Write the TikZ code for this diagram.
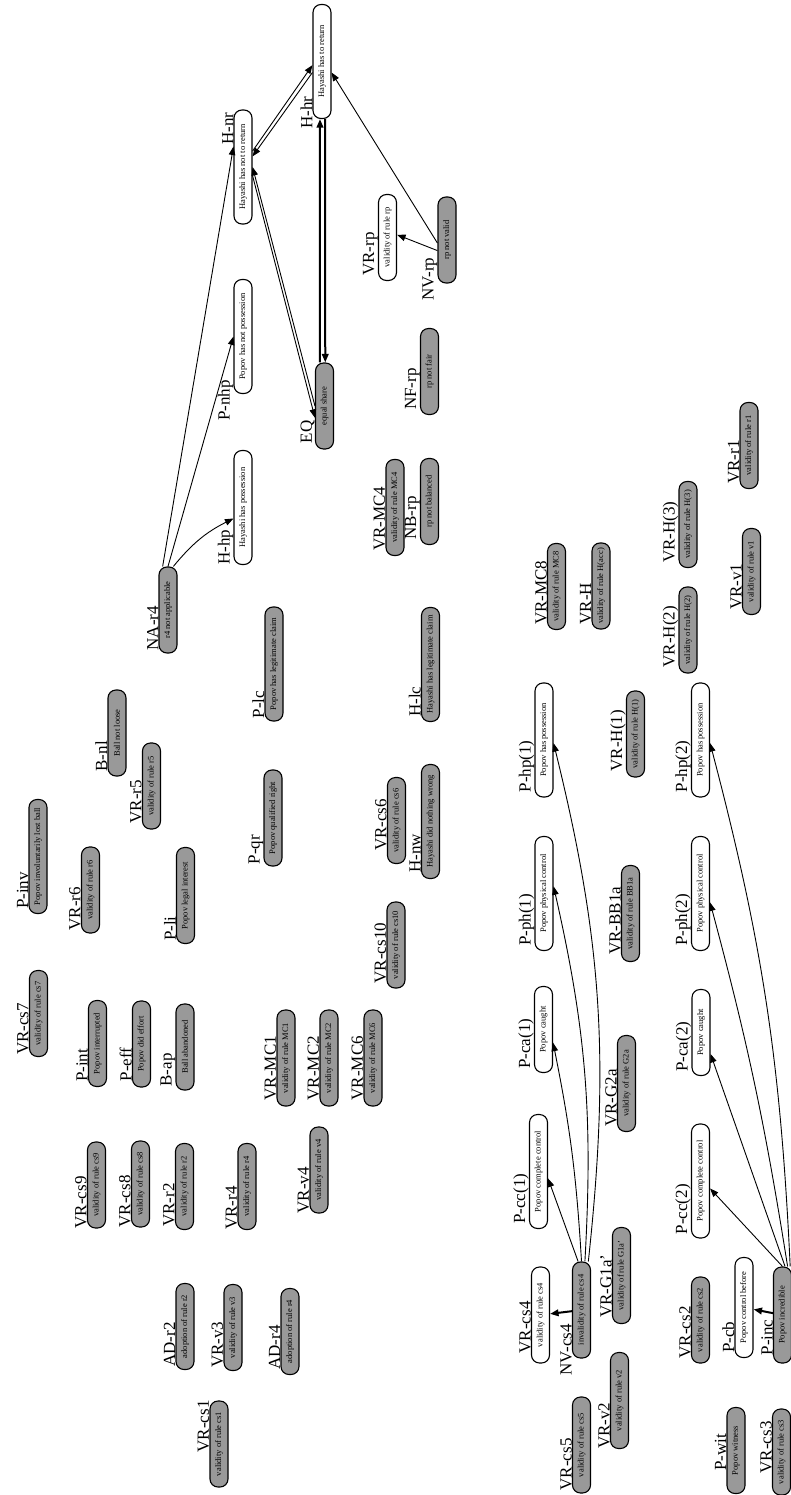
\documentclass[tikz,border=0pt]{standalone}
\usepackage{fontspec}
\setmainfont{Liberation Serif}
\usepackage{tikz}
\usetikzlibrary{arrows.meta, positioning}
\definecolor{argray}{RGB}{153,153,153}

\begin{document}
\begin{tikzpicture}[
  x={(0pt,-1pt)}, y={(-1pt,0pt)}, rotate=90, transform shape,
  prop/.style={rectangle, rounded corners=8pt, draw=black,
    line width=1.1pt, fill=white, inner sep=0pt,
    minimum width=86pt, minimum height=18pt,
    font=\fontsize{8.5}{9}\selectfont},
  held/.style={prop, fill=argray},
  longbox/.style={minimum width=114pt},
  midbox/.style={minimum width=96pt},
  tag/.style={inner sep=0pt, font=\fontsize{17}{17}\selectfont},
  arrow/.style={-{Triangle[length=8.5pt,width=6.5pt]}, line width=0.9pt},
  heavy/.style={arrow, line width=2pt}
]
\useasboundingbox (0,0) rectangle (791,1495);

% Return cluster
\node[prop, longbox] (Hhr) at (322,61.5) {Hayashi has to return};
\node[tag, above right=0pt and -10pt of Hhr.north west] (Hhrt) {H-hr};
\node[prop, longbox] (Hnr) at (243,167) {Hayashi has not to return};
\node[tag, above left=0pt and 3pt of Hnr.north east] (Hnrt) {H-nr};
\node[prop, longbox] (Pnhp) at (243,336.5) {Popov has not possession};
\node[tag, above right=0pt and -27pt of Pnhp.north west] (Pnhpt) {P-nhp};
\node[prop, longbox] (Hhp) at (243,507.5) {Hayashi has possession};
\node[tag, above right=0pt and 0pt of Hhp.north west] (Hhpt) {H-hp};
\node[held] (EQ) at (324.5,406) {equal share};
\node[tag, above right=0pt and 6pt of EQ.north west] (EQt) {EQ};
\node[prop] (VRrp) at (387.5,237.5) {validity of rule rp};
\node[tag, above right=0pt and 5pt of VRrp.north west] (VRrpt) {VR-rp};
\node[held] (NVrp) at (447,240) {rp not valid};
\node[tag, above right=0pt and -17pt of NVrp.north west] (NVrpt) {NV-rp};
\node[held] (NFrp) at (429.5,371.5) {rp not fair};
\node[tag, above right=0pt and 5pt of NFrp.north west] (NFrpt) {NF-rp};
\node[held] (NBrp) at (429.5,501.5) {rp not balanced};
\node[tag, above right=0pt and 5pt of NBrp.north west] (NBrpt) {NB-rp};
\node[held, midbox] (VRMC4) at (395,507.5) {validity of rule MC4};
\node[tag, above right=0pt and 5pt of VRMC4.north west] (VRMC4t) {VR-MC4};
\node[held] (NAr4) at (168,610) {r4 not applicable};
\node[tag, above right=0pt and 3pt of NAr4.north west] (NAr4t) {NA-r4};

% Claims and facts
\node[held, longbox] (Plc) at (274,664) {Popov has legitimate claim};
\node[tag, above right=0pt and 3pt of Plc.north west] (Plct) {P-lc};
\node[held, longbox] (Hlc) at (430.5,664.5) {Hayashi has legitimate claim};
\node[tag, above right=0pt and 5pt of Hlc.north west] (Hlct) {H-lc};
\node[held] (Bnl) at (117,733) {Ball not loose};
\node[tag, above right=0pt and 5pt of Bnl.north west] (Bnlt) {B-nl};
\node[held] (VRr5) at (151.5,786) {validity of rule r5};
\node[tag, above right=0pt and 6pt of VRr5.north west] (VRr5t) {VR-r5};
\node[held, midbox] (Pqr) at (273,818) {Popov qualified right};
\node[tag, above right=0pt and 2pt of Pqr.north west] (Pqrt) {P-qr};
\node[held] (VRcs6) at (396.5,820.5) {validity of rule cs6};
\node[tag, above right=0pt and 13pt of VRcs6.north west] (VRcs6t) {VR-cs6};
\node[held, longbox] (Hnw) at (430.5,821.5) {Hayashi did nothing wrong};
\node[tag, above right=0pt and 6pt of Hnw.north west] (Hnwt) {H-nw};
\node[held, longbox] (Pinv) at (38,856.5) {Popov involuntarily lost ball};
\node[tag, above right=0pt and 5pt of Pinv.north west] (Pinvt) {P-inv};
\node[held] (VRr6) at (90.5,890) {validity of rule r6};
\node[tag, above right=0pt and 3pt of VRr6.north west] (VRr6t) {VR-r6};
\node[held, midbox] (Pli) at (185.5,895.5) {Popov legal interest};
\node[tag, above right=0pt and 3pt of Pli.north west] (Plit) {P-li};
\node[held] (VRcs10) at (396,945) {validity of rule cs10};
\node[tag, above right=0pt and 5pt of VRcs10.north west] (VRcs10t) {VR-cs10};
\node[held] (VRcs7) at (38.5,1013.5) {validity of rule cs7};
\node[tag, above right=0pt and 2pt of VRcs7.north west] (VRcs7t) {VR-cs7};
\node[held] (Pint) at (97.5,1043.5) {Popov interrupted};
\node[tag, above right=0pt and 5pt of Pint.north west] (Pintt) {P-int};
\node[held] (Peff) at (141.5,1044) {Popov did effort};
\node[tag, above right=0pt and 6pt of Peff.north west] (Pefft) {P-eff};
\node[held] (Bap) at (185,1047) {Ball abandoned};
\node[tag, above right=0pt and 4pt of Bap.north west] (Bapt) {B-ap};
\node[held, midbox] (VRMC1) at (286,1058) {validity of rule MC1};
\node[tag, above right=0pt and 6pt of VRMC1.north west] (VRMC1t) {VR-MC1};
\node[held, midbox] (VRMC2) at (329,1058) {validity of rule MC2};
\node[tag, above right=0pt and 6pt of VRMC2.north west] (VRMC2t) {VR-MC2};
\node[held, midbox] (VRMC6) at (373,1058) {validity of rule MC6};
\node[tag, above right=0pt and 6pt of VRMC6.north west] (VRMC6t) {VR-MC6};

% Rules, lower left
\node[held] (VRcs9) at (96.5,1185) {validity of rule cs9};
\node[tag, above right=0pt and 0pt of VRcs9.north west] (VRcs9t) {VR-cs9};
\node[held] (VRcs8) at (140.5,1184) {validity of rule cs8};
\node[tag, above right=0pt and 0pt of VRcs8.north west] (VRcs8t) {VR-cs8};
\node[held] (VRr2) at (184.5,1186.5) {validity of rule r2};
\node[tag, above right=0pt and 3pt of VRr2.north west] (VRr2t) {VR-r2};
\node[held] (VRr4) at (247,1186.5) {validity of rule r4};
\node[tag, above right=0pt and 0pt of VRr4.north west] (VRr4t) {VR-r4};
\node[held] (VRv4) at (319,1170) {validity of rule v4};
\node[tag, above right=0pt and 0pt of VRv4.north west] (VRv4t) {VR-v4};
\node[held] (ADr2) at (185,1326.5) {adoption of rule r2};
\node[tag, above right=0pt and 3pt of ADr2.north west] (ADr2t) {AD-r2};
\node[held] (VRv3) at (233,1327.5) {validity of rule v3};
\node[tag, above right=0pt and 3pt of VRv3.north west] (VRv3t) {VR-v3};
\node[held] (ADr4) at (290,1331.5) {adoption of rule r4};
\node[tag, above right=0pt and 5pt of ADr4.north west] (ADr4t) {AD-r4};
\node[held] (VRcs1) at (219,1444) {validity of rule cs1};
\node[tag, above right=0pt and 35pt of VRcs1.north west] (VRcs1t) {VR-cs1};

% Popov chain 1
\node[prop, longbox] (Php1) at (544,740) {Popov has possession};
\node[tag, above right=0pt and 5pt of Php1.north west] (Php1t) {P-hp(1)};
\node[prop, longbox] (Pph1) at (544,893.5) {Popov physical control};
\node[tag, above right=0pt and 5pt of Pph1.north west] (Pph1t) {P-ph(1)};
\node[prop] (Pca1) at (543.5,1029.5) {Popov caught};
\node[tag, above right=0pt and 4pt of Pca1.north west] (Pca1t) {P-ca(1)};
\node[prop, longbox] (Pcc1) at (538.5,1171.5) {Popov complete control};
\node[tag, above right=0pt and 5pt of Pcc1.north west] (Pcc1t) {P-cc(1)};
\node[prop, midbox] (VRcs4) at (540.5,1315) {validity of rule cs4};
\node[tag, above right=0pt and 10pt of VRcs4.north west] (VRcs4t) {VR-cs4};
\node[held, midbox] (NVcs4) at (581.5,1310) {invalidity of rule cs4};
\node[tag, above right=0pt and -17pt of NVcs4.north west] (NVcs4t) {NV-cs4};

% Rules, right
\node[held, midbox] (VRG1a) at (621.5,1275.5) {validity of rule G1a'};
\node[tag, above right=0pt and 6pt of VRG1a.north west] (VRG1at) {VR-G1a'};
\node[held, midbox] (VRG2a) at (626.5,1083.5) {validity of rule G2a};
\node[tag, above right=0pt and 5pt of VRG2a.north west] (VRG2at) {VR-G2a};
\node[held, midbox] (VRBB1a) at (630.5,913.5) {validity of rule BB1a};
\node[tag, above right=0pt and 7pt of VRBB1a.north west] (VRBB1at) {VR-BB1a};
\node[held] (VRH1) at (635.5,734) {validity of rule H(1)};
\node[tag, above right=0pt and 6pt of VRH1.north west] (VRH1t) {VR-H(1)};
\node[held] (VRMC8) at (556.5,586.5) {validity of rule MC8};
\node[tag, above right=0pt and 5pt of VRMC8.north west] (VRMC8t) {VR-MC8};
\node[held] (VRHacc) at (601,586) {validity of rule H(acc)};
\node[tag, above right=0pt and 5pt of VRHacc.north west] (VRHacct) {VR-H};
\node[held] (VRH2) at (688,630) {validity of rule H(2)};
\node[tag, above right=0pt and 6pt of VRH2.north west] (VRH2t) {VR-H(2)};
\node[held] (VRH3) at (688,524.5) {validity of rule H(3)};
\node[tag, above right=0pt and 5pt of VRH3.north west] (VRH3t) {VR-H(3)};
\node[held] (VRr1) at (749,445.5) {validity of rule r1};
\node[tag, above right=0pt and 5pt of VRr1.north west] (VRr1t) {VR-r1};
\node[held] (VRv1) at (751.5,571.5) {validity of rule v1};
\node[tag, above right=0pt and 5pt of VRv1.north west] (VRv1t) {VR-v1};

% Popov chain 2
\node[prop, longbox] (Php2) at (700.5,740) {Popov has possession};
\node[tag, above right=0pt and 5pt of Php2.north west] (Php2t) {P-hp(2)};
\node[prop, longbox] (Pph2) at (700.5,893.5) {Popov physical control};
\node[tag, above right=0pt and 5pt of Pph2.north west] (Pph2t) {P-ph(2)};
\node[prop] (Pca2) at (701,1032.5) {Popov caught};
\node[tag, above right=0pt and 4pt of Pca2.north west] (Pca2t) {P-ca(2)};
\node[prop, longbox] (Pcc2) at (700.5,1181) {Popov complete control};
\node[tag, above right=0pt and 4pt of Pcc2.north west] (Pcc2t) {P-cc(2)};
\node[held] (VRcs2) at (700.5,1320) {validity of rule cs2};
\node[tag, above right=0pt and 5pt of VRcs2.north west] (VRcs2t) {VR-cs2};
\node[prop, minimum width=100pt] (Pcb) at (744,1307.5) {Popov control before};
\node[tag, above right=0pt and 5pt of Pcb.north west] (Pcbt) {P-cb};
\node[held, midbox] (Pinc) at (782.5,1315) {Popov incredible};
\node[tag, above right=0pt and 8pt of Pinc.north west] (Pinct) {P-inc};

% Bottom row
\node[held, midbox] (VRcs5) at (581.5,1445) {validity of rule cs5};
\node[tag, above right=0pt and 3pt of VRcs5.north west] (VRcs5t) {VR-cs5};
\node[held, midbox] (VRv2) at (619.5,1400.5) {validity of rule v2};
\node[tag, above right=0pt and 0pt of VRv2.north west] (VRv2t) {VR-v2};
\node[held] (Pwit) at (736,1450.5) {Popov witness};
\node[tag, above right=0pt and 23pt of Pwit.north west] (Pwitt) {P-wit};
\node[held] (VRcs3) at (781.5,1452) {validity of rule cs3};
\node[tag, above right=0pt and 22pt of VRcs3.north west] (VRcs3t) {VR-cs3};

% Attacks around the return question
\draw[arrow] (NAr4.7) -- (Hnr.25);
\draw[arrow] (NAr4.east) -- (Pnhp.north);
\draw[arrow] (NAr4.-7) to[bend left=12] (Hhp.139);
\draw[arrow] (Hnr.-31) -- (Hhr.111);
\draw[arrow] (Hhr.139) -- (Hnr.-42);
\draw[arrow] (EQ.north) -- (Hnr.south);
\draw[arrow] (Hnr.228) -- (EQ.141);
\draw[heavy] (EQ.6) -- (Hhr.178);
\draw[heavy] (Hhr.183) -- (EQ.-1);
\draw[arrow] (NVrp.108) -- (Hhr.221);
\draw[arrow] (NVrp.138) -- (VRrp.-74);

% Fan from NV-cs4
\draw[heavy] (NVcs4) -- (VRcs4);
\draw[arrow] (NVcs4.4) -- (Pcc1.-126);
\draw[arrow] (NVcs4.0) to[bend right=4] (Pca1.-144);
\draw[arrow] (NVcs4.-4) to[bend right=8] (Pph1.-53);
\draw[arrow] (NVcs4.-8) to[bend right=10] (Php1.-108);

% Fan from P-inc
\draw[heavy] (Pinc) -- (Pcb);
\draw[arrow] (Pinc.0) -- (Pcc2.-128);
\draw[arrow] (Pinc.-3) -- (Pca2.-156);
\draw[arrow] (Pinc.-6) to[bend right=3] (Pph2.-133);
\draw[arrow] (Pinc.-9) to[bend right=6] (Php2.-108);
\end{tikzpicture}
\end{document}
